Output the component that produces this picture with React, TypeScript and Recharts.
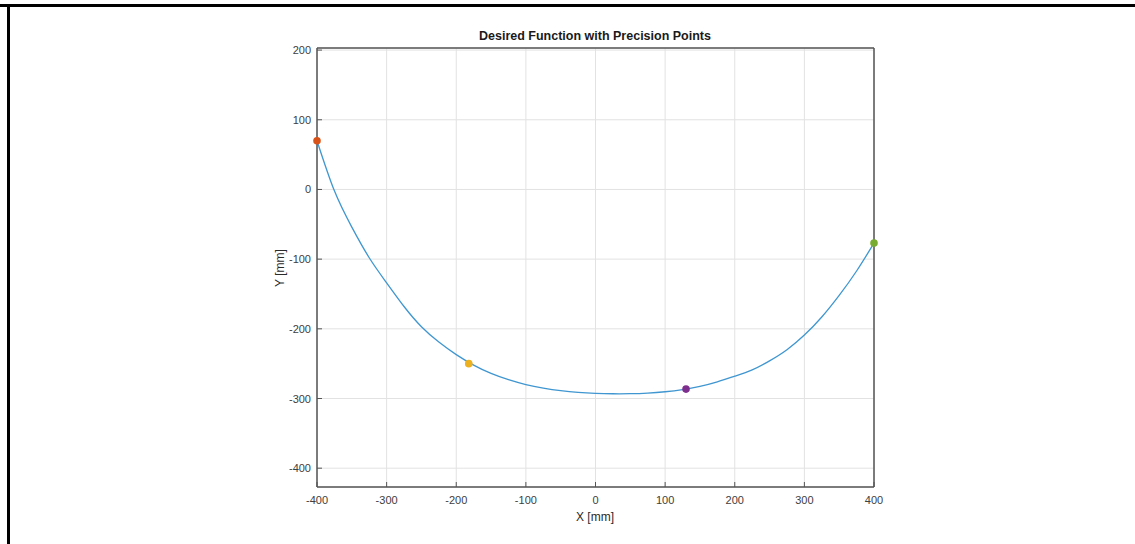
import { ComposedChart, Line, Scatter, XAxis, YAxis, CartesianGrid } from 'recharts';

const curveX = [-400, -375, -350, -325, -300, -275, -250, -225, -200, -175, -150, -125, -100, -75, -50, -25, 0, 25, 50, 75, 100, 125, 150, 175, 200, 225, 250, 275, 300, 325, 350, 375, 400];
const curveY = [70, -2, -54, -98, -134, -168, -197, -219, -237, -252, -264, -273, -280, -285, -288.7, -291.2, -292.6, -293.2, -293.1, -292.2, -290.3, -287.2, -282.5, -276, -268, -259, -246, -230, -209, -183, -152, -117, -77];

const precisionX = [-400, -182, 130, 400];
const precisionY = [70, -250, -286.5, -77];
const precisionColors = ['#D95319', '#EDB120', '#7E2F8E', '#77AC30'];

const xTicks = [-400, -300, -200, -100, 0, 100, 200, 300, 400];
const yTicks = [-400, -300, -200, -100, 0, 100, 200];

const curve = curveX.map((x, i) => ({ x, y: curveY[i] }));

const FONT = '"Liberation Sans", Arial, Helvetica, sans-serif';
const AXIS = '#555';

const BottomTick = (p: any) => (
  <g>
    <line x1={p.x} y1={p.y} x2={p.x} y2={p.y - 5} stroke={AXIS} strokeWidth={1} />
    <text x={p.x} y={p.y + 17} textAnchor="middle" fontSize={11} fontFamily={FONT} fill="#404040">
      {p.payload.value}
    </text>
  </g>
);

const TopTick = (p: any) => <line x1={p.x} y1={p.y} x2={p.x} y2={p.y + 5} stroke={AXIS} strokeWidth={1} />;

const LeftTick = (p: any) => (
  <g>
    <line x1={p.x} y1={p.y} x2={p.x + 5} y2={p.y} stroke={AXIS} strokeWidth={1} />
    <text x={p.x - 6} y={p.y + 4} textAnchor="end" fontSize={11} fontFamily={FONT} fill="#404040">
      {p.payload.value}
    </text>
  </g>
);

const RightTick = (p: any) => <line x1={p.x} y1={p.y} x2={p.x - 5} y2={p.y} stroke={AXIS} strokeWidth={1} />;

export default function App() {
  return (
    <div style={{ position: 'absolute', left: 0, top: 0, width: 1135, height: 544, background: '#fff', fontFamily: FONT }}>
      <div style={{ position: 'absolute', left: 0, top: 4, width: 1135, height: 3, background: '#000' }} />
      <div style={{ position: 'absolute', left: 7, top: 4, width: 3, height: 540, background: '#000' }} />
      <ComposedChart width={1135} height={544} margin={{ top: 38, right: 251, bottom: 27, left: 277 }}>
        <CartesianGrid stroke="#e2e2e2" strokeWidth={1} />
        <XAxis
          dataKey="x"
          type="number"
          domain={[-400, 400]}
          ticks={xTicks}
          height={30}
          tickSize={0}
          tickMargin={0}
          tick={<BottomTick />}
          axisLine={{ stroke: AXIS, strokeWidth: 1.5 }}
          tickLine={false}
        />
        <XAxis
          xAxisId="top"
          orientation="top"
          dataKey="x"
          type="number"
          domain={[-400, 400]}
          ticks={xTicks}
          height={10}
          tickSize={0}
          tickMargin={0}
          tick={<TopTick />}
          axisLine={{ stroke: AXIS, strokeWidth: 1.5 }}
          tickLine={false}
        />
        <YAxis
          type="number"
          domain={[-427, 203]}
          ticks={yTicks}
          width={40}
          tickSize={0}
          tickMargin={0}
          tick={<LeftTick />}
          axisLine={{ stroke: AXIS, strokeWidth: 1.5 }}
          tickLine={false}
        />
        <YAxis
          yAxisId="right"
          orientation="right"
          type="number"
          domain={[-427, 203]}
          ticks={yTicks}
          width={10}
          tickSize={0}
          tickMargin={0}
          tick={<RightTick />}
          axisLine={{ stroke: AXIS, strokeWidth: 1.5 }}
          tickLine={false}
        />
        <Line
          data={curve}
          dataKey="y"
          type="natural"
          stroke="#3f96d0"
          strokeWidth={1.3}
          dot={false}
          isAnimationActive={false}
        />
        {precisionX.map((x, i) => (
          <Scatter
            key={i}
            data={[{ x, y: precisionY[i] }]}
            dataKey="y"
            fill={precisionColors[i]}
            isAnimationActive={false}
            shape={(p: any) => <circle cx={p.cx} cy={p.cy} r={3.8} fill={precisionColors[i]} />}
          />
        ))}
      </ComposedChart>
      <div style={{ position: 'absolute', left: 395, width: 400, top: 28, textAlign: 'center', fontSize: 12.5, fontWeight: 'bold', color: '#1a1a1a', lineHeight: '16px' }}>
        Desired Function with Precision Points
      </div>
      <div style={{ position: 'absolute', left: 495, width: 200, top: 509, textAlign: 'center', fontSize: 12, color: '#2a2a2a', lineHeight: '16px' }}>
        X [mm]
      </div>
      <div style={{ position: 'absolute', left: 230, width: 100, top: 259.5, textAlign: 'center', fontSize: 12, color: '#2a2a2a', lineHeight: '16px', transform: 'rotate(-90deg)' }}>
        Y [mm]
      </div>
    </div>
  );
}
